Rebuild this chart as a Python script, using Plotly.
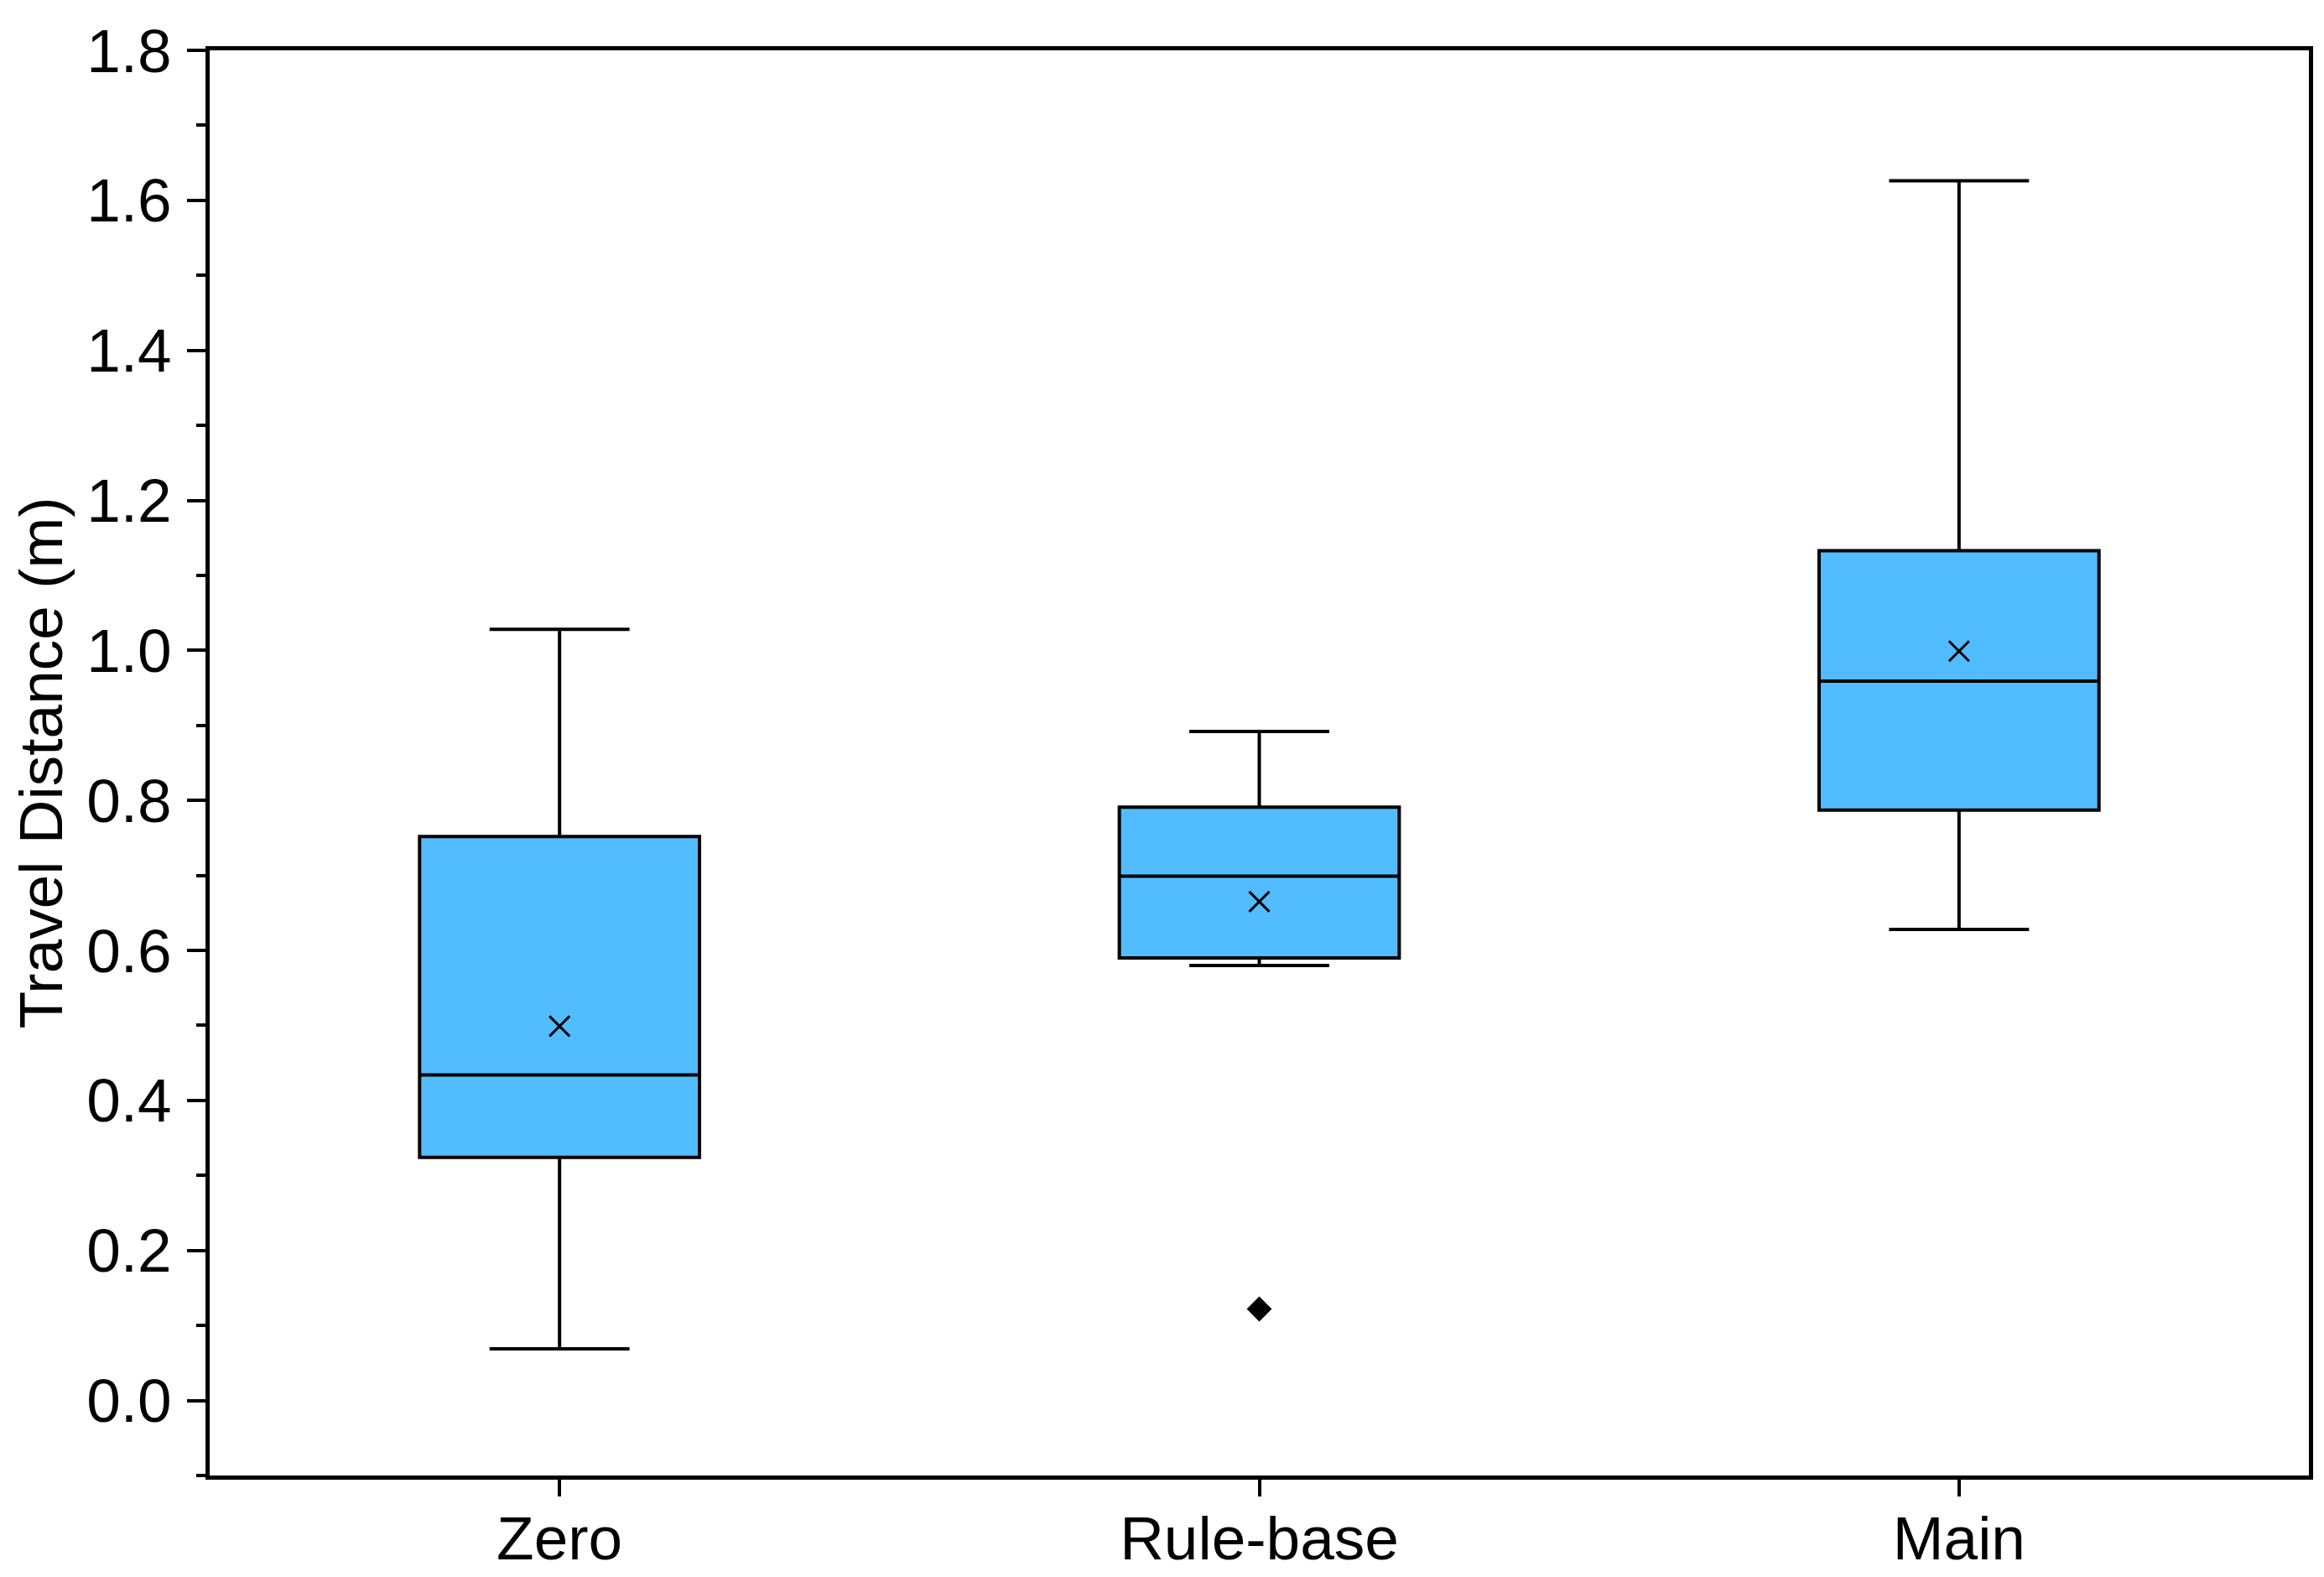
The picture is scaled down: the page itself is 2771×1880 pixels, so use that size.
import plotly.graph_objects as go

categories = ["Zero", "Rule-base", "Main"]
q1 = [0.324, 0.590, 0.787]
median = [0.434, 0.699, 0.959]
q3 = [0.752, 0.791, 1.133]
lower_whisker = [0.069, 0.580, 0.628]
upper_whisker = [1.028, 0.892, 1.626]
means = [0.499, 0.665, 0.999]
outlier_cat = ["Rule-base"]
outlier_val = [0.122]

FONT = "Liberation Sans, Arial, sans-serif"
BOX_COLOR = "#51BCFF"

fig = go.Figure()
fig.add_trace(go.Box(
    x=categories, q1=q1, median=median, q3=q3,
    lowerfence=lower_whisker, upperfence=upper_whisker,
    fillcolor=BOX_COLOR,
    line=dict(color="black", width=4),
    whiskerwidth=0.5,
    width=0.4,
    boxpoints=False,
    showlegend=False,
))
fig.add_trace(go.Scatter(
    x=categories, y=means, mode="markers",
    marker=dict(symbol="x-thin", size=24, line=dict(color="black", width=3)),
    showlegend=False,
))
fig.add_trace(go.Scatter(
    x=outlier_cat, y=outlier_val, mode="markers",
    marker=dict(symbol="diamond", size=23, color="black"),
    showlegend=False,
))

fig.update_layout(
    width=2771, height=1880,
    margin=dict(l=242, r=26, t=44, b=129),
    paper_bgcolor="white", plot_bgcolor="white",
    font=dict(family=FONT, size=73, color="black"),
)
fig.update_xaxes(
    type="category", categoryorder="array", categoryarray=categories,
    range=[-0.5, 2.5],
    showline=True, linecolor="black", linewidth=4.5, mirror=True,
    ticks="outside", ticklen=20, tickwidth=4, tickcolor="black",
    ticklabelstandoff=-12,
    showgrid=False, zeroline=False,
    tickfont=dict(family=FONT, size=73),
)
fig.update_yaxes(
    range=[-0.1, 1.8],
    dtick=0.2, tick0=0, tickformat=".1f",
    showline=True, linecolor="black", linewidth=4.5, mirror=True,
    ticks="outside", ticklen=22, tickwidth=4, tickcolor="black",
    ticklabelstandoff=4,
    minor=dict(dtick=0.1, tick0=0, ticks="outside", ticklen=11, tickwidth=4, tickcolor="black"),
    showgrid=False, zeroline=False,
    tickfont=dict(family=FONT, size=73),
    title=dict(text="Travel Distance (m)", font=dict(family=FONT, size=73), standoff=20),
)

fig.write_html("out.html")
